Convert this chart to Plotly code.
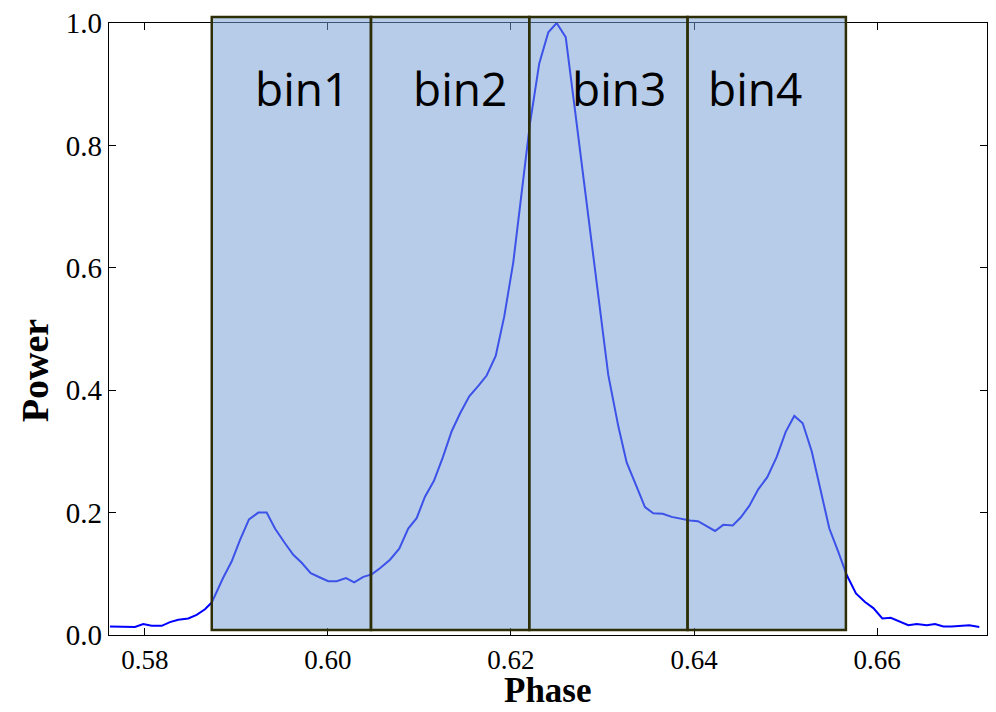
import plotly.graph_objects as go

# Pulse profile
phase = [0.57617, 0.57705, 0.57803, 0.57891, 0.57981, 0.58073, 0.58183, 0.58273, 0.58364, 0.58473,
         0.58565, 0.58656, 0.58729, 0.58856, 0.58947, 0.59038, 0.59137, 0.59238, 0.59330, 0.59421,
         0.59530, 0.59621, 0.59713, 0.59811, 0.59913, 0.60003, 0.60095, 0.60197, 0.60287, 0.60386,
         0.60478, 0.60568, 0.60678, 0.60779, 0.60877, 0.60969, 0.61060, 0.61158, 0.61254, 0.61352,
         0.61443, 0.61544, 0.61643, 0.61734, 0.61833, 0.61927, 0.62025, 0.62117, 0.62208, 0.62309,
         0.62408, 0.62499, 0.62598, 0.62689, 0.62776, 0.62863, 0.62965, 0.63063, 0.63173, 0.63264,
         0.63374, 0.63464, 0.63555, 0.63658, 0.63756, 0.63866, 0.63956, 0.64044, 0.64120, 0.64230,
         0.64320, 0.64423, 0.64510, 0.64604, 0.64702, 0.64801, 0.64904, 0.65002, 0.65096, 0.65188,
         0.65287, 0.65377, 0.65479, 0.65577, 0.65669, 0.65770, 0.65869, 0.65960, 0.66058, 0.66150,
         0.66251, 0.66342, 0.66434, 0.66543, 0.66634, 0.66725, 0.66816, 0.66915, 0.67009, 0.67118]
power = [0.014, 0.014, 0.013, 0.013, 0.018, 0.015, 0.015, 0.021, 0.025, 0.027,
         0.033, 0.042, 0.053, 0.094, 0.120, 0.155, 0.189, 0.200, 0.200, 0.174,
         0.150, 0.131, 0.118, 0.101, 0.094, 0.088, 0.088, 0.093, 0.086, 0.095,
         0.099, 0.109, 0.123, 0.141, 0.174, 0.191, 0.226, 0.252, 0.290, 0.333,
         0.362, 0.390, 0.407, 0.424, 0.456, 0.521, 0.609, 0.719, 0.836, 0.934,
         0.985, 1.000, 0.977, 0.870, 0.765, 0.665, 0.545, 0.425, 0.341, 0.282,
         0.242, 0.209, 0.199, 0.198, 0.193, 0.189, 0.187, 0.186, 0.180, 0.170,
         0.180, 0.179, 0.192, 0.211, 0.238, 0.258, 0.291, 0.332, 0.358, 0.346,
         0.300, 0.240, 0.174, 0.136, 0.098, 0.068, 0.054, 0.044, 0.027, 0.028,
         0.022, 0.016, 0.018, 0.016, 0.018, 0.014, 0.014, 0.015, 0.016, 0.013]

bin_edges = [0.5873, 0.6047, 0.6220, 0.6393, 0.6566]
bin_labels = ["bin1", "bin2", "bin3", "bin4"]
label_phase = [0.59721, 0.61448, 0.63175, 0.64667]

x_ticks = [0.58, 0.60, 0.62, 0.64, 0.66]
y_ticks = [0.0, 0.2, 0.4, 0.6, 0.8, 1.0]

fig = go.Figure()
fig.add_trace(go.Scatter(x=phase, y=power, mode="lines",
                         line=dict(color="#0000ff", width=2), showlegend=False))

for i in range(len(bin_labels)):
    fig.add_shape(type="rect", xref="x", yref="paper",
                  x0=bin_edges[i], x1=bin_edges[i + 1], y0=0.008, y1=1.0098,
                  fillcolor="rgba(115,158,210,0.52)",
                  line=dict(color="#2e2e06", width=2.5), layer="above")
    fig.add_annotation(x=label_phase[i], y=0.893, xref="x", yref="paper",
                       text=bin_labels[i], showarrow=False,
                       xanchor="center", yanchor="middle",
                       font=dict(family="Open Sans", size=46, color="black"))

serif = "Liberation Serif"
fig.add_annotation(x=-0.084, y=0.433, xref="paper", yref="paper", text="<b>Power</b>",
                   textangle=-90, showarrow=False, xanchor="center", yanchor="middle",
                   font=dict(family=serif, size=38, color="black"))
fig.add_annotation(x=0.5, y=-0.0915, xref="paper", yref="paper", text="<b>Phase</b>",
                   showarrow=False, xanchor="center", yanchor="middle",
                   font=dict(family=serif, size=35, color="black"))

fig.update_layout(
    width=996, height=712,
    margin=dict(l=109, r=9, t=23, b=77),
    paper_bgcolor="white", plot_bgcolor="white",
    font=dict(family=serif, color="black"),
    xaxis=dict(range=[0.57607, 0.67202], tickvals=x_ticks, tickformat=".2f",
               showgrid=False, zeroline=False, showline=True, mirror="ticks",
               linecolor="black", linewidth=1.2, ticks="inside", ticklen=7,
               tickcolor="black", tickfont=dict(family=serif, size=27),
               automargin=False),
    yaxis=dict(range=[0, 1.0001], tickvals=y_ticks, tickformat=".1f",
               showgrid=False, zeroline=False, showline=True, mirror="ticks",
               linecolor="black", linewidth=1.2, ticks="inside", ticklen=7,
               tickcolor="black", tickfont=dict(family=serif, size=29),
               automargin=False),
)

# remove the default 8px page margin so the figure sits at the window's corner
fig.write_html("out.html", config={"displayModeBar": False},
               post_script="document.body.style.margin='0';document.body.style.overflow='hidden';")
